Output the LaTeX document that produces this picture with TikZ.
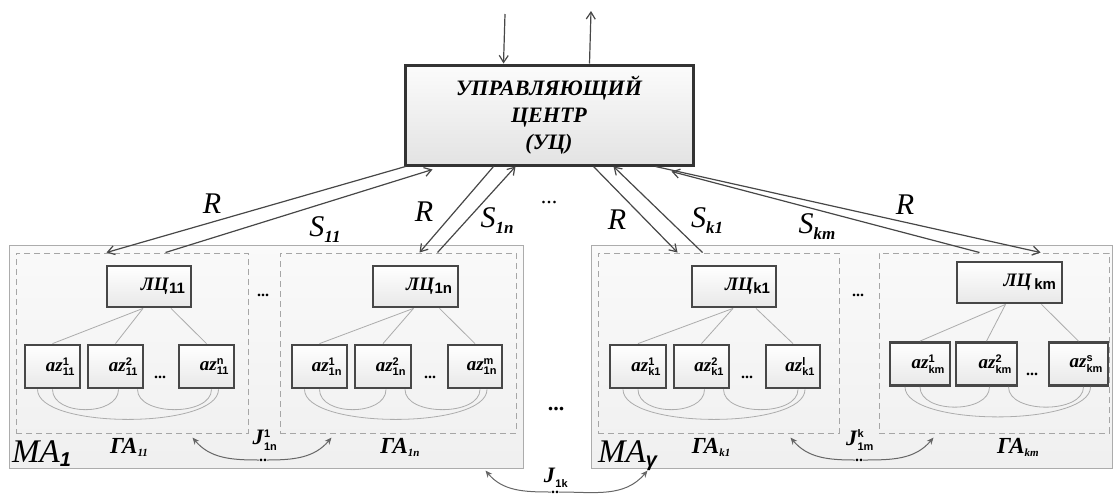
\documentclass[tikz,border=0pt]{standalone}
\usepackage{fontspec}
\setmainfont{Liberation Serif}
\newfontfamily\sfb{Liberation Sans}
\usetikzlibrary{arrows.meta,calc}
\newcommand\azt[2]{\textbf{\textit{az}}$^{\mbox{\fontsize{11}{11}\selectfont\sfb\bfseries #1}}_{\mbox{\fontsize{11}{11}\selectfont\sfb\bfseries #2}}$}
\newcommand\lct[1]{\textbf{\textit{ЛЦ}}\raisebox{-3pt}{\fontsize{15}{15}\selectfont\sfb\bfseries #1}}
\newcommand\gat[1]{ГА\raisebox{-3pt}{\fontsize{11}{11}\selectfont #1}}
\newcommand\jsym[2]{\textbf{\textit{J}}$^{\mbox{\fontsize{11}{11}\selectfont\sfb\bfseries #1}}_{\mbox{\fontsize{11}{11}\selectfont\sfb\bfseries #2}}$}
\newcommand\ssym[1]{S\raisebox{-6pt}{\fontsize{17}{17}\selectfont\bfseries #1}}
\begin{document}
\begin{tikzpicture}[x=1pt,y=-1pt,
  mabox/.style={draw=gray!65, top color=gray!4, bottom color=gray!12, line width=1pt, inner sep=0pt},
  gabox/.style={draw=gray!70, dash pattern=on 6pt off 4pt, line width=1pt, inner sep=0pt},
  lcbox/.style={draw=black!72, line width=2.8pt, top color=white, bottom color=gray!18,
     minimum height=41pt, inner xsep=6pt, inner ysep=0pt, align=right,
     font=\fontsize{19}{19}\selectfont},
  azbox/.style={draw=black!72, line width=2.8pt, top color=white, bottom color=gray!18,
     minimum height=43pt, inner xsep=5pt, inner ysep=0pt, align=right,
     font=\fontsize{19}{19}\selectfont},
  ucbox/.style={draw=black!80, line width=3pt, top color=gray!3, bottom color=gray!22,
     minimum width=288pt, minimum height=100pt, align=center, inner sep=0pt,
     font=\fontsize{22}{27}\selectfont\bfseries\itshape},
  link/.style={draw=gray!65, line width=0.8pt},
  flow/.style={draw=black!72, line width=1.2pt, -{Straight Barb[length=7pt,width=9pt]}},
  jarr/.style={draw=black!60, line width=1pt, -{Stealth[length=7pt,width=6pt]}},
  rlab/.style={inner sep=0pt, font=\fontsize{30}{30}\selectfont\itshape},
  galab/.style={inner sep=0pt, font=\fontsize{23}{23}\selectfont\bfseries\itshape},
  malab/.style={inner sep=0pt, font=\fontsize{33}{33}\selectfont\itshape},
  jlab/.style={inner sep=0pt, font=\fontsize{22}{22}\selectfont},
  dotlab/.style={inner sep=0pt, font=\fontsize{16}{16}\selectfont\bfseries}
]
\useasboundingbox (0,0) rectangle (1113,498);

% outer MA boxes
\node[mabox, minimum width=514pt, minimum height=223pt] (MA1) at (266,356.5) {};
\node[mabox, minimum width=521pt, minimum height=223pt] (MAg) at (851.5,356.5) {};

% GA dashed groups
\node[gabox, minimum width=232pt, minimum height=180pt] (GA11) at (132,343) {};
\node[gabox, minimum width=236pt, minimum height=180pt] (GA1n) at (398,343) {};
\node[gabox, minimum width=241pt, minimum height=180pt] (GAk1) at (718.5,343) {};
\node[gabox, minimum width=230pt, minimum height=180pt] (GAkm) at (994,343) {};

% control centre
\node[ucbox] (UC) at (549,115) {УПРАВЛЯЮЩИЙ\\ЦЕНТР\\(УЦ)};
\coordinate (inp) at (505,14);
\coordinate (outp) at (591,11);
\draw[flow] (inp) -- ($(UC.north west)+(100,0)$);
\draw[flow] ($(UC.north west)+(186,0)$) -- (outp);

% local centres
\node[lcbox, text width=72pt] (L11) at (149,286.5) {\lct{11}};
\node[lcbox, text width=73pt] (L1n) at (415.5,286.5) {\lct{1n}};
\node[lcbox, text width=72pt] (Lk1) at (734,286.5) {\lct{k1}};
\node[lcbox, text width=93pt] (Lkm) at (1009.5,282.5) {\lct{\,km}};

% agents
\node[azbox, text width=45pt] (a111) at (52.5,366.5) {\azt{1}{11}};
\node[azbox, text width=45pt] (a112) at (115.5,366.5) {\azt{2}{11}};
\node[azbox, text width=45pt] (a11n) at (206.5,366.5) {\azt{n}{11}};
\node[azbox, text width=45pt] (a1n1) at (319.5,366.5) {\azt{1}{1n}};
\node[azbox, text width=46pt] (a1n2) at (383,366.5) {\azt{2}{1n}};
\node[azbox, text width=44pt] (a1nm) at (475,366.5) {\azt{m}{1n}};
\node[azbox, text width=46pt] (ak11) at (638,366.5) {\azt{1}{k1}};
\node[azbox, text width=45pt] (ak12) at (701.5,366.5) {\azt{2}{k1}};
\node[azbox, text width=44pt] (ak1l) at (793,366.5) {\azt{l}{k1}};
\node[azbox, text width=50pt] (akm1) at (920,364) {\azt{1}{km}};
\node[azbox, text width=51pt] (akm2) at (986.5,364) {\azt{2}{km}};
\node[azbox, text width=49pt] (akms) at (1078.5,364) {\azt{s}{km}};

\node[dotlab] (d11) at (160,377) {...};
\node[dotlab] (d1n) at (430,377) {...};
\node[dotlab] (dk1) at (747,377) {...};
\node[dotlab] (dkm) at (1032,374) {...};

% tree links
\foreach \L/\A/\B/\C/\p/\q in {L11/a111/a112/a11n/-6/22, L1n/a1n1/a1n2/a1nm/-2/24, Lk1/ak11/ak12/ak1l/-1/22, Lkm/akm1/akm2/akms/-4/32}{
  \draw[link] ([xshift=\p pt]\L.south) -- (\A.north);
  \draw[link] ([xshift=\p pt]\L.south) -- (\B.north);
  \draw[link] ([xshift=\q pt]\L.south) -- (\C.north);
  \draw[link] ([xshift=-15pt]\A.south) .. controls +(0,40) and +(0,40) .. ([xshift=12pt]\C.south);
  \draw[link] (\A.south) .. controls +(0,27) and +(0,27) .. ([xshift=3pt]\B.south);
  \draw[link] ([xshift=22pt]\B.south) .. controls +(0,27) and +(0,27) .. ([xshift=5pt]\C.south);
}

% dots between groups
\node[dotlab] (g1dots) at (263,295) {...};
\node[dotlab] (g2dots) at (858,295) {...};
\node[inner sep=0pt, font=\fontsize{22}{22}\selectfont\bfseries] (madots) at (556,409) {...};
\node[inner sep=0pt, font=\fontsize{22}{22}\selectfont] (topdots) at (549,203) {...};

% R / S flows
\draw[flow] ($(UC.south west)+(2,0)$) -- ($(GA11.north west)+(91,0)$);
\draw[flow] ($(GA11.north west)+(150,0)$) -- ($(UC.south west)+(29,3)$);
\draw[flow] ($(UC.south west)+(90,0)$) -- ($(GA1n.north west)+(140,0)$);
\draw[flow] ($(GA1n.north west)+(158,0)$) -- ($(UC.south west)+(112,0)$);
\draw[flow] ($(UC.south west)+(190,0)$) -- ($(GAk1.north west)+(80,0)$);
\draw[flow] ($(GAk1.north west)+(105,0)$) -- ($(UC.south west)+(210,0)$);
\draw[flow] ($(UC.south west)+(252,0)$) -- ($(GAkm.north west)+(162,0)$);
\draw[flow] ($(GAkm.north west)+(101,0)$) -- ($(UC.south west)+(268,5)$);

\node[rlab] (R11) at (212,204) {R};
\node[rlab] (S11) at (325,230) {\ssym{11}};
\node[rlab] (R1n) at (424,212) {R};
\node[rlab] (S1n) at (497,221) {\ssym{1n}};
\node[rlab] (Rk1) at (617,220) {R};
\node[rlab] (Sk1) at (707,221) {\ssym{k1}};
\node[rlab] (Skm) at (817,227) {\ssym{km}};
\node[rlab] (Rkm) at (905,205) {R};

% group labels
\node[galab] (tga11) at (129,447) {\gat{11}};
\node[galab] (tga1n) at (400,447) {\gat{1n}};
\node[galab] (tgak1) at (711,447) {\gat{k1}};
\node[galab] (tgakm) at (1018,447) {\gat{km}};

\node[malab, anchor=base west] (tma1) at (12,462) {МА\raisebox{-4pt}{\fontsize{20}{20}\selectfont\sfb\bfseries 1}};
\node[malab, anchor=base west] (tmag) at (598,462) {МА\raisebox{-4pt}{\fontsize{20}{20}\selectfont\sfb\bfseries γ}};

% J links
\node[jlab] (J1) at (265,440) {\jsym{1}{1n}};
\node[dotlab] (jd1) at (263,460) {..};
\node[jlab] (J2) at (860,440) {\jsym{k}{1m}};
\node[dotlab] (jd2) at (859,460) {..};
\node[jlab] (J3) at (556,478) {\jsym{}{1k}};
\node[dotlab] (jd3) at (555,492) {..};

\draw[jarr] (jd1.west) to[out=180,in=-50] ($(GA11.south west)+(177,4)$);
\draw[jarr] (jd1.east) to[out=0,in=-130] ($(GA1n.south west)+(52,4)$);
\draw[jarr] (jd2.west) to[out=180,in=-50] ($(GAk1.south west)+(193,4)$);
\draw[jarr] (jd2.east) to[out=0,in=-130] ($(GAkm.south west)+(55,4)$);
\draw[jarr] (jd3.west) to[out=180,in=-50] ($(MA1.south west)+(477,2)$);
\draw[jarr] (jd3.east) to[out=0,in=-130] ($(MAg.south west)+(57,2)$);
\end{tikzpicture}
\end{document}
